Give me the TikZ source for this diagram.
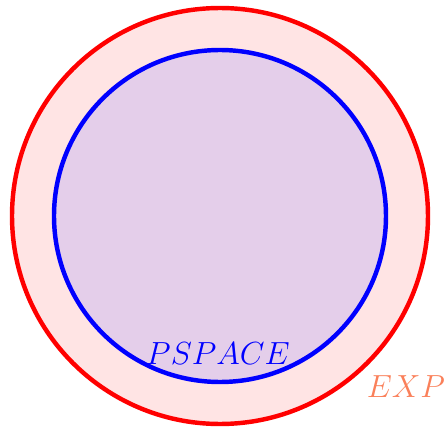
\documentclass[tikz,border=0pt]{standalone}
\definecolor{outerfill}{RGB}{255,228,228}
\definecolor{innerfill}{RGB}{228,206,234}
\definecolor{expcol}{RGB}{250,128,90}
\begin{document}
\begin{tikzpicture}[x=0.45pt,y=-0.45pt,
  ring/.style={circle, line width=2pt, inner sep=0pt, outer sep=0pt},
  lbl/.style={inner sep=0pt, font=\fontsize{13.8}{16}\selectfont}]
\useasboundingbox (0,0) rectangle (448,428);
\node[ring, draw=red, fill=outerfill, minimum size=416*0.45pt] (exp) at (220,216) {};
\node[ring, draw=blue, fill=innerfill, minimum size=332*0.45pt] (pspace) at (220,216) {};
\node[lbl, text=blue] (pl) at (218,354) {$PSPACE$};
\node[lbl, text=expcol] (el) at (406,387) {$EXP$};
\end{tikzpicture}
\end{document}
